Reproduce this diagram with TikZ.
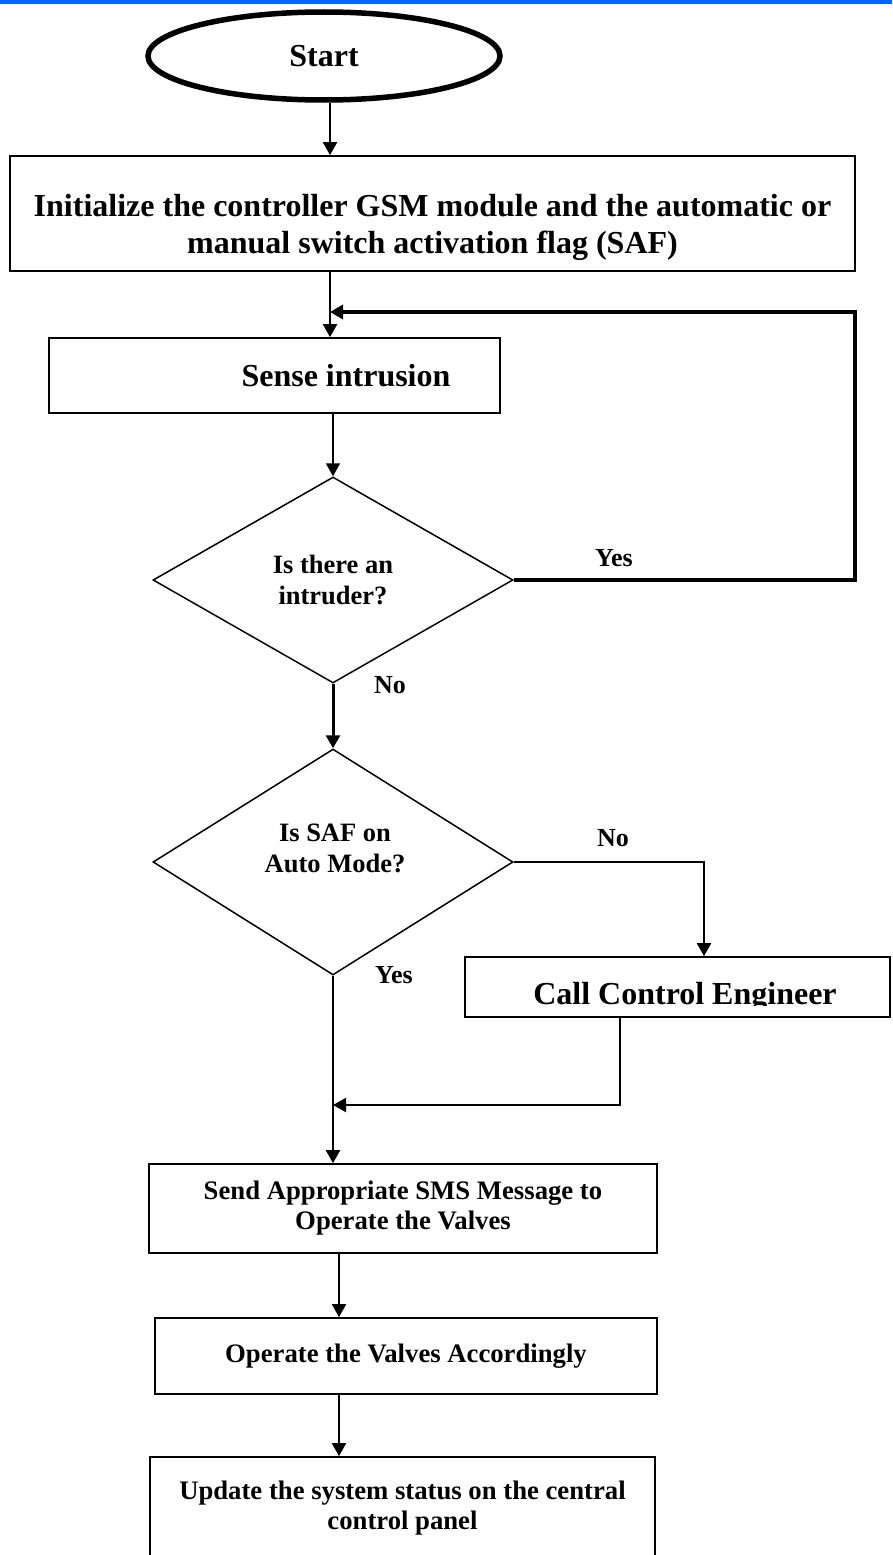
\documentclass[tikz,border=0pt]{standalone}
\usepackage{fontspec}
\setmainfont{Liberation Serif}
\usetikzlibrary{arrows.meta,shapes.geometric}
\definecolor{barblue}{RGB}{0,102,255}

\begin{document}
\begin{tikzpicture}[x=1pt,y=-1pt,>={Triangle[length=13pt,width=14pt]},
  stepbox/.style={draw,rectangle,line width=1.7pt,inner sep=0pt,align=center},
  decision/.style={draw,diamond,line width=1.5pt,inner sep=0pt,minimum width=360pt,minimum height=206pt,align=center,font=\fontsize{26.5}{31}\selectfont\bfseries},
  flow/.style={->,line width=2pt},
  heavy/.style={->,line width=4pt},
  lbl/.style={inner sep=0pt,font=\fontsize{26}{30}\selectfont\bfseries}]

  \useasboundingbox (0,0) rectangle (892,1555);
  \fill[barblue] (0,0) rectangle (892,4);

  \node[ellipse,draw,line width=5.5pt,minimum width=352pt,minimum height=88pt,font=\fontsize{32}{36}\selectfont\bfseries] (start) at (324,56) {Start};
  \node[stepbox,minimum width=845pt,minimum height=115pt,font=\fontsize{32}{37}\selectfont\bfseries] (init) at (432.5,213.5) {\rule{0pt}{50pt}Initialize the controller GSM module and the automatic or\\manual switch activation flag (SAF)};
  \node[stepbox,minimum width=451pt,minimum height=75pt,font=\fontsize{32}{37}\selectfont\bfseries] (sense) at (274.5,375.5) {\hspace*{143pt}Sense intrusion};

  \node[decision] (intr) at (333,580) {Is there an\\intruder?};
  \node[decision,minimum height=226pt] (saf) at (333,862) {};
  \node[lbl,align=center,font=\fontsize{26.5}{31}\selectfont\bfseries] (saftext) at (335,848) {Is SAF on\\Auto Mode?};

  % call box, text cut off at the bottom like the original
  \node[stepbox,minimum width=425pt,minimum height=60pt] (call) at (677.5,987) {};
  \begin{scope}
    \clip (call.north west) rectangle ([yshift=12pt]call.south east);
    \node[anchor=base,font=\fontsize{32}{36}\selectfont\bfseries] (calltext) at (685,1004) {Call Control Engineer};
  \end{scope}

  \node[stepbox,minimum width=508pt,minimum height=89pt,font=\fontsize{26.7}{30}\selectfont\bfseries] (send) at (403,1208.5) {Send Appropriate SMS Message to\\Operate the Valves};
  \node[stepbox,minimum width=502pt,minimum height=76pt,font=\fontsize{26.7}{30}\selectfont\bfseries] (operate) at (406,1356) {Operate the Valves Accordingly};
  \node[stepbox,minimum width=505pt,minimum height=103pt,font=\fontsize{26.7}{30}\selectfont\bfseries] (update) at (402.5,1508.5) {Update the system status on the central\\control panel};

  \node[lbl] (yesloop) at (614,558) {Yes};
  \node[lbl] (nointr) at (390,685) {No};
  \node[lbl] (nosaf) at (613,838) {No};
  \node[lbl] (yessaf) at (394,975) {Yes};

  \coordinate (trunk) at (330,0);
  \coordinate (loop) at (855,312);
  \coordinate (merge) at (620,1105);
  \coordinate (trunkb) at (339,0);

  \draw[flow] (trunk |- start.south) -- (trunk |- init.north);
  \draw[flow] (trunk |- init.south) -- (trunk |- sense.north);
  \draw[flow] (intr.north |- sense.south) -- (intr.north);
  \draw[heavy] (intr.east) -| (loop) -- (trunk |- loop);
  \draw[->,line width=3pt] (intr.south) -- (saf.north);
  \draw[flow] (saf.east) -| ([xshift=26.5pt]call.north);
  \draw[flow] (saf.south) -- (saf.south |- send.north);
  \draw[flow] (merge |- call.south) -- (merge) -- (saf.south |- merge);
  \draw[flow] (trunkb |- send.south) -- (trunkb |- operate.north);
  \draw[flow] (trunkb |- operate.south) -- (trunkb |- update.north);
\end{tikzpicture}
\end{document}
